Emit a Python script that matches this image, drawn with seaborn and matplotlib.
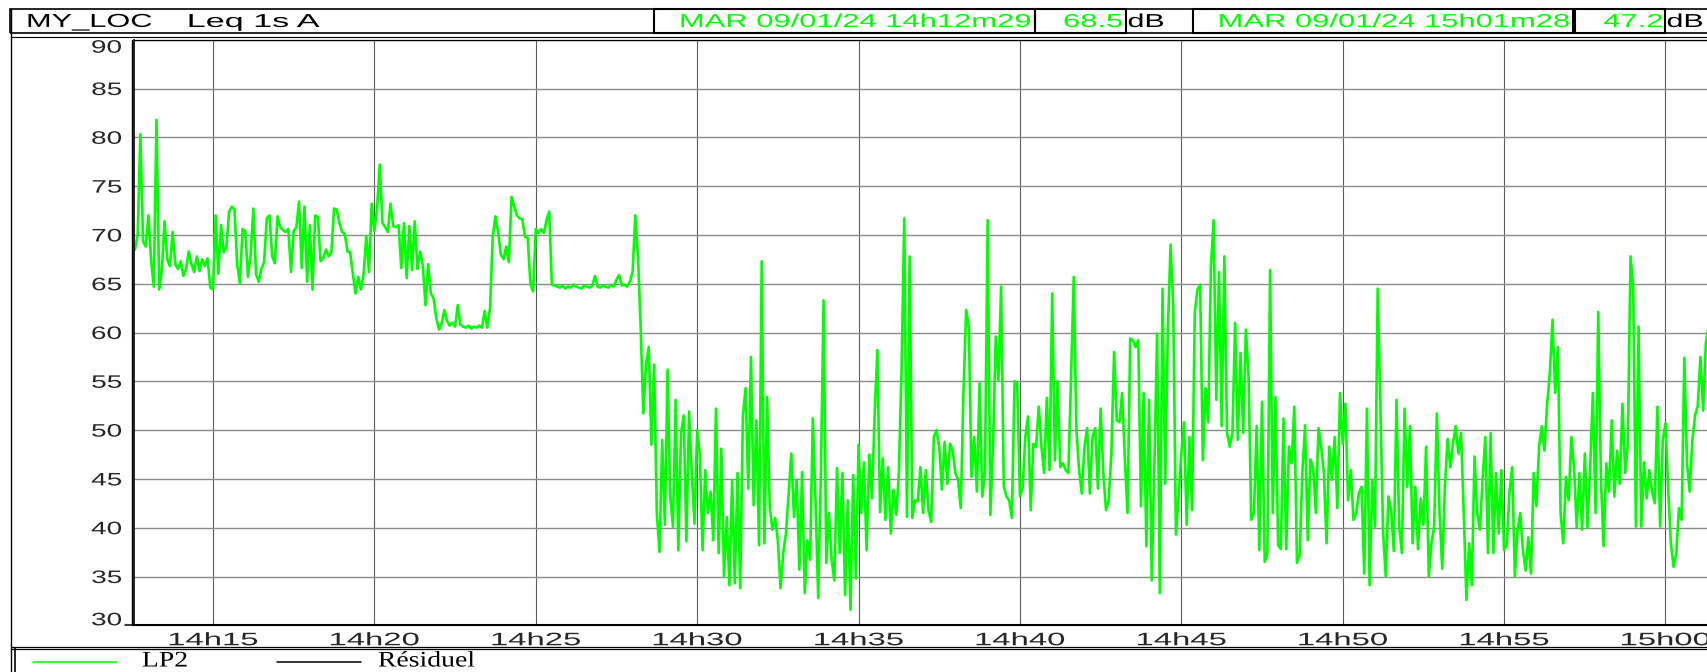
import numpy as np
import matplotlib
matplotlib.use("Agg")
import matplotlib.pyplot as plt
import seaborn as sns
from matplotlib.patches import Rectangle
from matplotlib.lines import Line2D
from matplotlib.patheffects import AbstractPathEffect
from matplotlib.transforms import Affine2D

# --- data : Leq 1s A, one reading kept every 5 s, minutes after 14h00 ---
start_min = 12 + 35 / 60      # 14h12m35
step_s = 5

leq_1412 = [68.5, 70, 80.3, 69.3, 68.8, 72, 67.4, 64.7, 81.8, 64.4, 66.5, 71.4,
            67.5, 66.8, 70.3, 67, 66.5, 67.3, 65.8, 66.5, 68.3, 67, 66.2, 67.8,
            66.3, 67.5, 66.8, 67.6, 64.6, 64.4, 72, 66, 71, 68.2, 68.8, 72.4,
            72.9, 72.6, 67, 65, 70.6, 70.4, 65.7, 68, 72.7, 66, 65.2, 66.5,
            67.2, 71.7, 72, 67.8, 67.1, 71.9, 70.8, 70.5, 70.3, 70.6, 66.2, 70.4]
leq_1417 = [70.8, 73.4, 66.6, 72.9, 65.2, 71, 64.4, 72, 71.8, 67.3, 67.6, 68.5,
            67.8, 68.2, 72.7, 72.6, 71.2, 70.3, 70.1, 68.3, 68.2, 66, 64, 65.7,
            64.4, 66, 69.9, 66.2, 73.2, 70.4, 72.7, 77.2, 71.2, 70.8, 70.3, 73.2,
            70.9, 70.8, 71, 66.6, 71.2, 65.6, 70.9, 66.4, 71.4, 66.5, 68.3, 66.9,
            62.8, 67, 64, 63.5, 61.5, 60.3, 60.9, 62.3, 61.2, 60.7, 61, 60.6]
leq_1422 = [62.8, 60.8, 60.6, 60.5, 60.7, 60.4, 60.6, 60.5, 60.7, 60.5, 62.2, 60.5,
            62.5, 69.8, 71.9, 70.3, 68, 67.5, 68.8, 67.2, 73.9, 72.9, 72, 71.7,
            71.6, 69.8, 69.7, 65, 64.2, 70.6, 70.2, 70.6, 70.2, 71.5, 72.4, 64.9,
            64.8, 64.7, 64.6, 64.8, 64.5, 64.7, 64.6, 64.9, 64.7, 64.6, 64.5, 64.8,
            64.7, 64.6, 64.8, 65.8, 64.7, 64.6, 64.8, 64.7, 64.6, 64.9, 64.7, 65.4]
leq_1427 = [65.9, 64.8, 64.9, 64.7, 65.2, 66.2, 72, 67.8, 60.5, 51.7, 56.8, 58.5,
            48.5, 56.7, 41.5, 37.5, 49, 40.3, 56.2, 43.2, 40.1, 53.1, 37.7, 49.7,
            51.5, 38.6, 51.9, 45.6, 40.4, 50, 47.5, 37.7, 45.9, 41.5, 43.7, 38.7,
            52.2, 37.4, 48.1, 35, 41.1, 34.1, 44.9, 34.3, 45.6, 33.8, 51.4, 54.3,
            44, 57.5, 42.3, 51, 38.2, 67.3, 38.4, 53.4, 42, 39.8, 41, 38.7]
leq_1432 = [33.8, 37.4, 39.4, 43.4, 47.6, 41.1, 44.9, 35.7, 45.7, 33.3, 38.7, 36.7,
            51.2, 42.8, 32.8, 45.6, 63.3, 36.4, 41.5, 36.7, 34.6, 46.1, 37.4, 45.6,
            33.1, 42.8, 31.6, 45.4, 34.8, 48.5, 41.5, 46.7, 37.7, 47.5, 43, 51.7,
            58.2, 41.6, 47.1, 40.8, 46.2, 39.4, 43.9, 41.3, 45.6, 56.3, 71.7, 41.1,
            67.8, 41, 42.8, 42.7, 46.2, 41.5, 45.9, 41.8, 40.6, 49.3, 50, 48.3]
leq_1437 = [43.9, 48.8, 44.5, 48.6, 47.9, 45.6, 44.9, 42, 53.8, 62.3, 60.6, 45.2,
            49.3, 43.7, 54.8, 43.2, 45.6, 71.5, 41.3, 48.3, 59.6, 55.1, 64.7, 44.2,
            43.2, 42.8, 41, 55, 54.8, 43.2, 44, 49.3, 51.4, 41.8, 48.6, 48.3,
            52.4, 48.3, 45.6, 53.3, 45.9, 64, 46.9, 55, 46.2, 46.6, 45.9, 45.6,
            55.3, 65.7, 50, 45.9, 43.5, 48.3, 50.2, 43.5, 49.3, 50.2, 44, 52.2]
leq_1442 = [45.6, 41.8, 42.8, 47.6, 58, 51, 50.8, 53.8, 47.1, 41.5, 59.4, 59.2,
            58.5, 59.2, 42.2, 53.8, 38.1, 53.1, 34.6, 46.6, 59.9, 33.3, 64.5, 44.5,
            60.3, 69, 62.7, 39.3, 43.2, 47.6, 50.8, 40.3, 49.3, 41.8, 62, 64.4,
            64.9, 46.9, 54.3, 50.8, 66.7, 71.5, 53.1, 66.2, 50.4, 67.8, 49.7, 48.3,
            49.7, 61, 49, 57.9, 49.7, 60.3, 55.5, 40.8, 41.5, 50.4, 37.7, 52.9]
leq_1447 = [36.5, 37.4, 66.4, 41.5, 53.4, 38.2, 37.8, 51.2, 37.8, 48.3, 46.6, 52.4,
            36.4, 37.2, 45.7, 50.5, 38.7, 47, 46.2, 41.5, 50.2, 48.3, 45.6, 38.4,
            48.3, 44.9, 49.3, 42, 53.8, 48.6, 52.7, 42.8, 45.9, 40.8, 41.5, 43.5,
            44.2, 35.3, 52.2, 34.1, 44.9, 40.1, 64.5, 52.6, 39.6, 35, 43.2, 41.8,
            37.6, 53.1, 40.1, 37.4, 52.2, 44.2, 50.4, 38.4, 44.2, 37.8, 43, 40.3]
leq_1452 = [48.3, 35, 38.4, 40.1, 51.7, 41.5, 35.8, 44.2, 49.1, 46.2, 48.6, 50.4,
            47.6, 49.7, 41.5, 32.6, 38.4, 34.1, 47.3, 41.5, 39.8, 44.9, 49.3, 37.4,
            49.7, 37.4, 45.6, 39.4, 45.9, 37.7, 38.2, 43.7, 46.2, 35, 39.8, 41.5,
            37.7, 35.6, 39, 35.3, 45.6, 42.2, 48.3, 50.4, 47.9, 52.7, 55.8, 61.3,
            53.8, 58.5, 41.5, 38.4, 45.2, 42.8, 49.3, 46.2, 40, 45.6, 39.8, 47.6]
leq_1457 = [40, 46.2, 53.8, 41.5, 62.1, 44.9, 38.1, 46.6, 43.7, 51, 43.2, 47.9,
            44.5, 52.7, 45.6, 48.6, 67.8, 64.7, 40.1, 60.6, 40.1, 46.7, 43, 45.9,
            43.7, 42.5, 52.4, 40.1, 49, 50.7, 44, 38.4, 36, 37.3, 42, 40.8,
            57.4, 46.6, 43.7, 49, 51.5, 52.5, 57.5, 52, 58.9, 60.6]

tick_minutes = [15, 20, 25, 30, 35, 40, 45, 50, 55, 60]
tick_labels = ["14h15", "14h20", "14h25", "14h30", "14h35",
               "14h40", "14h45", "14h50", "14h55", "15h00"]
db_ticks = [30, 35, 40, 45, 50, 55, 60, 65, 70, 75, 80, 85, 90]

cursor_1 = ("MAR 09/01/24 14h12m29", "68.5")
cursor_2 = ("MAR 09/01/24 15h01m28", "47.2")

leq = np.array(leq_1412 + leq_1417 + leq_1422 + leq_1427 + leq_1432 +
               leq_1437 + leq_1442 + leq_1447 + leq_1452 + leq_1457)
minutes = start_min + np.arange(len(leq)) * step_s / 60

GREEN = "#00ff00"


class Wide(AbstractPathEffect):
    """draws the text glyphs stretched horizontally (wide screen font)"""
    def __init__(self, sx=1.6, anchor="center"):
        super().__init__()
        self.sx = sx
        self.anchor = anchor

    def draw_path(self, renderer, gc, tpath, affine, rgbFace=None):
        box = tpath.get_extents(affine)
        x0 = {"left": box.x0, "center": 0.5 * (box.x0 + box.x1), "right": box.x1}[self.anchor]
        stretch = Affine2D().translate(-x0, 0).scale(self.sx, 1).translate(x0, 0)
        renderer.draw_path(gc, tpath, affine + stretch, rgbFace)


sns.set_style("white")
plt.rcParams["font.family"] = ["Liberation Sans", "DejaVu Sans"]

W, H = 1708, 672
fig = plt.figure(figsize=(W / 100, H / 100), dpi=100)


def fx(x):
    return x / W


def fy(y):
    return 1 - y / H


def hline(y, x0, x1, lw=0.8, color="black"):
    fig.add_artist(Line2D([fx(x0), fx(x1)], [fy(y), fy(y)], transform=fig.transFigure,
                          color=color, lw=lw))


def vline(x, y0, y1, lw=0.8, color="black"):
    fig.add_artist(Line2D([fx(x), fx(x)], [fy(y0), fy(y1)], transform=fig.transFigure,
                          color=color, lw=lw))


def box(x0, x1, y0, y1, lw=1.2):
    fig.add_artist(Rectangle((fx(x0), fy(y1)), (x1 - x0) / W, (y1 - y0) / H,
                             transform=fig.transFigure, fill=False, ec="black", lw=lw))


# plot area
left, bottom, top = 134.3, 625.3, 39.7
ax = fig.add_axes([fx(left), fy(bottom), (W - left) / W, (bottom - top) / H])
sns.lineplot(x=minutes, y=leq, ax=ax, color=GREEN, linewidth=1.9,
             estimator=None, legend=False)
ax.set_xlim(12.562, 61.317)
ax.set_ylim(30, 90)
ax.set_xlabel("")
ax.set_ylabel("")

ax.set_xticks(tick_minutes)
xl = ax.set_xticklabels(tick_labels)
ax.set_yticks(db_ticks)
yl = ax.set_yticklabels([str(v) for v in db_ticks])
ax.xaxis.grid(True, color="#5c5c5c", lw=0.8)
ax.yaxis.grid(True, color="#8c8c8c", lw=1.0)
ax.set_axisbelow(True)
ax.tick_params(axis="y", direction="out", length=6.5, width=1, color="black",
               pad=2.5, labelsize=13)
ax.tick_params(axis="x", direction="out", length=3.5, width=1.5, color="black",
               pad=1.5, labelsize=13)
for t in xl:
    t.set_path_effects([Wide(1.82, "center")])
for t in yl:
    t.set_path_effects([Wide(1.55, "right")])
yl[0].set_va("baseline")
yl[-1].set_va("top")

ax.spines["right"].set_visible(False)
ax.spines["left"].set_linewidth(1.2)
ax.spines["bottom"].set_linewidth(1.5)
ax.spines["top"].set_linewidth(0.9)
for s in ("left", "bottom", "top"):
    ax.spines[s].set_color("black")

# frames round the chart
vline(131.5, top, bottom, lw=1.0)
hline(bottom, 125, left, lw=1.1)
vline(11, 8.7, 672, lw=1.0)
vline(14.5, 648, 672, lw=1.2)
hline(36.5, 11, W, lw=0.8)
hline(646.5, 11, W, lw=0.9)
hline(649.2, 11, W, lw=0.9)

# header row
box(10, W + 5, 8.7, 33)
box(653.6, 1035, 8.7, 32.7, lw=1.5)
box(1035, 1126, 8.7, 32.7, lw=1.5)
box(1193, 1573, 8.7, 32.7, lw=1.5)
box(1575, 1665, 8.7, 32.7, lw=1.5)

y_head = 22.5
head = dict(fontsize=13.5, va="center")
fig.text(fx(27), fy(y_head), "MY_LOC", ha="left", color="black",
         path_effects=[Wide(1.64, "left")], **head)
fig.text(fx(188), fy(y_head), "Leq 1s A", ha="left", color="black",
         path_effects=[Wide(1.82, "left")], **head)
for (stamp, level), (x_stamp, x_level, x_db) in zip(
        [cursor_1, cursor_2], [(1031, 1123, 1128), (1570, 1663, 1667)]):
    fig.text(fx(x_stamp), fy(y_head), stamp, ha="right", color=GREEN,
             path_effects=[Wide(1.65, "right")], **head)
    fig.text(fx(x_level), fy(y_head), level, ha="right", color=GREEN,
             path_effects=[Wide(1.65, "right")], **head)
    fig.text(fx(x_db), fy(y_head), "dB", ha="left", color="black",
             path_effects=[Wide(1.62, "left")], **head)

# legend strip
leg = dict(fontsize=16, va="bottom", ha="left", color="black",
           family=["Liberation Serif", "DejaVu Serif"])
hline(661.5, 33, 117, lw=1.1, color=GREEN)
fig.text(fx(142), fy(671.5), "LP2", path_effects=[Wide(1.25, "left")], **leg)
hline(661.5, 277, 361, lw=1.1, color="black")
fig.text(fx(378), fy(671.5), "Résiduel", path_effects=[Wide(1.25, "left")], **leg)

fig.savefig("out.png", dpi=100)
